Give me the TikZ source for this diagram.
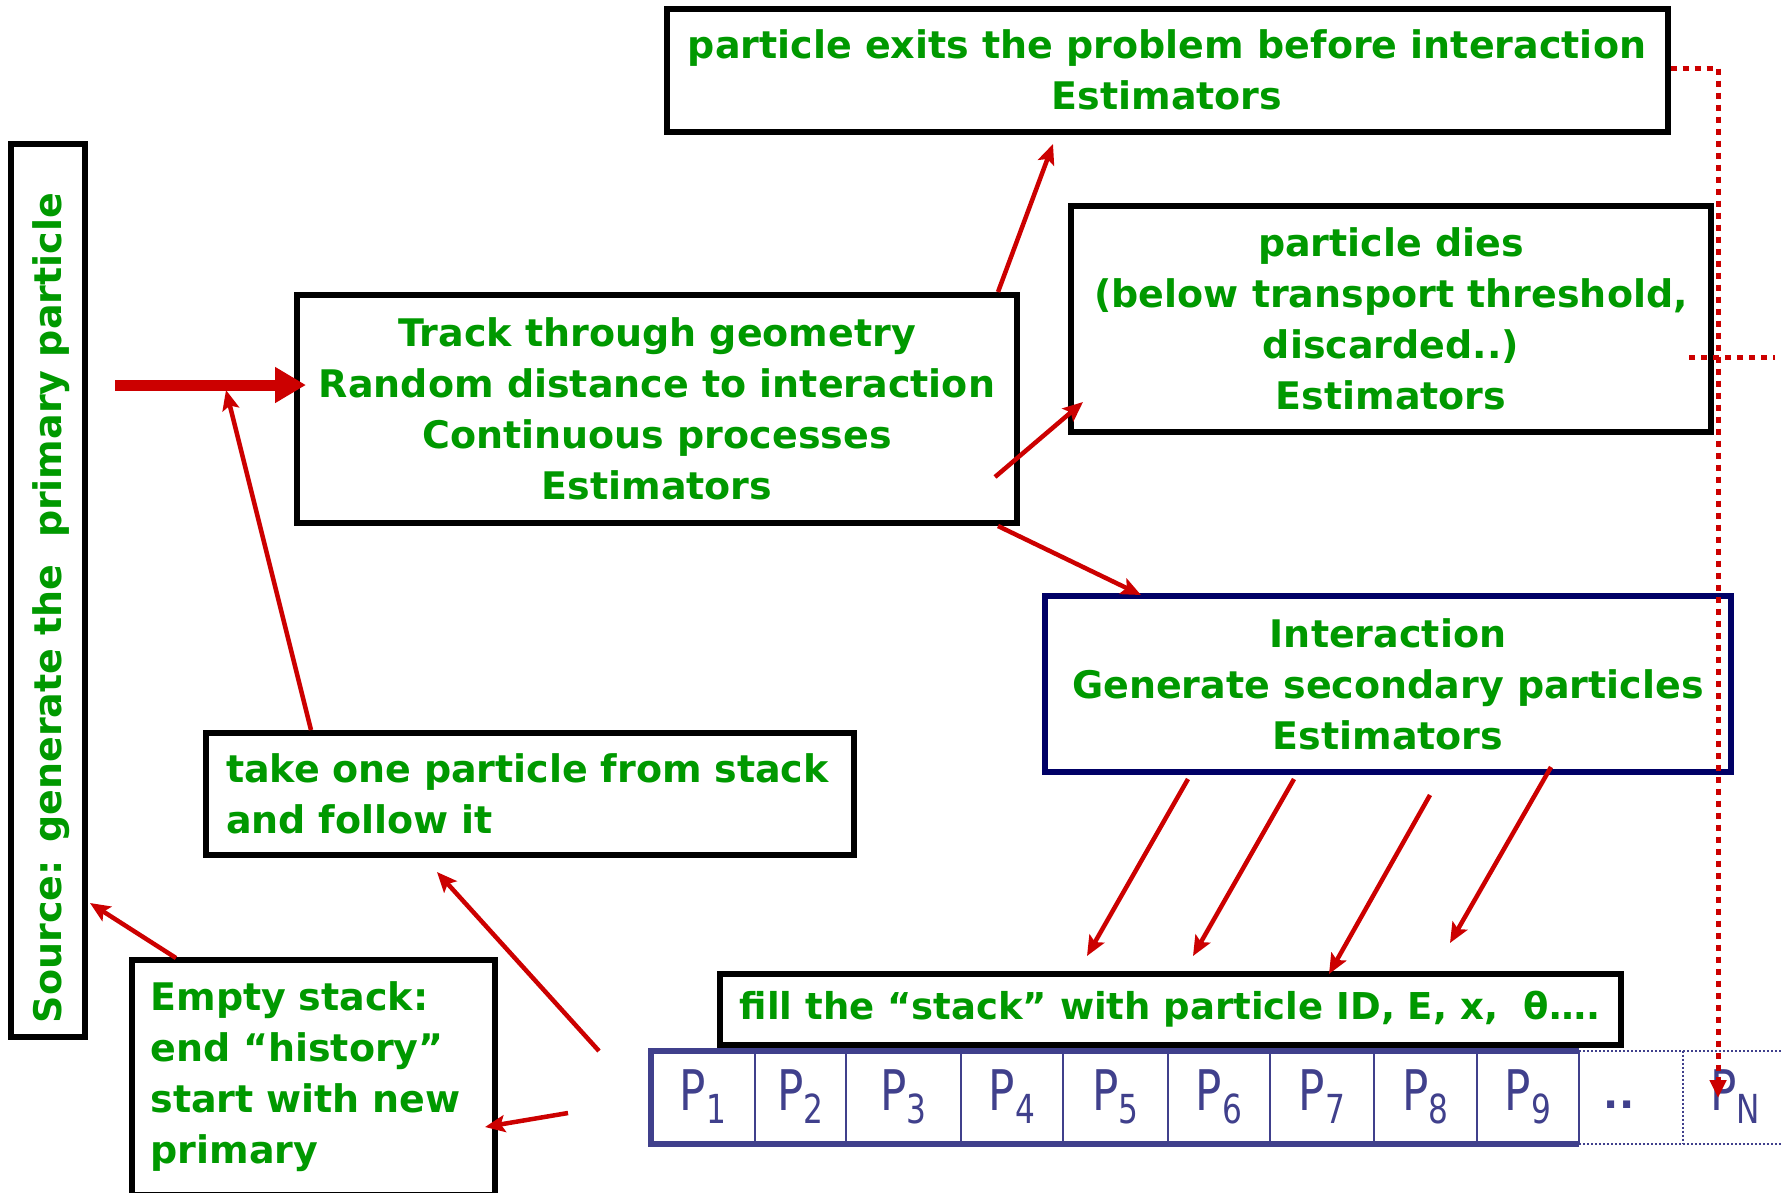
\documentclass[tikz,border=0pt]{standalone}
\usepackage{fontspec}
\setmainfont{DejaVu Sans}
\newfontfamily\condf[FakeStretch=0.78]{DejaVu Sans}
\usetikzlibrary{arrows.meta,calc}
\definecolor{tgreen}{RGB}{0,153,0}
\definecolor{ared}{RGB}{204,0,0}
\definecolor{navyb}{RGB}{0,0,102}
\definecolor{sblue}{RGB}{64,64,140}
\tikzset{
  box/.style={draw=black, line width=6pt, fill=white, inner sep=0pt, text=tgreen,
    font=\bfseries\fontsize{38}{51}\selectfont, align=center},
  arr/.style={draw=ared, line width=4.5pt, -{Stealth[length=20pt,width=17pt,inset=4pt]}},
  dotr/.style={draw=ared, line width=5pt, dash pattern=on 6pt off 6pt},
  cell/.style={draw=sblue, line width=2pt, inner sep=0pt, outer sep=0pt, minimum height=93pt, text=sblue,
    font=\condf\fontsize{56}{56}\selectfont},
}
\newcommand{\Psub}[1]{P\raisebox{-13pt}{\fontsize{40}{40}\selectfont #1}}
\begin{document}
\begin{tikzpicture}[x=1pt,y=-1pt]
\useasboundingbox[fill=white] (0,0) rectangle (1781,1192);

% boxes
\node[box, rotate=90, minimum width=893, minimum height=74] (src) at (48,590) {};
\node[text=tgreen, font=\bfseries\fontsize{38}{51}\selectfont, rotate=90, inner sep=0pt] (srct) at (51,608) {Source: generate the\ \ primary particle};

\node[box, minimum width=720, minimum height=228] (track) at (657,409)
  {Track through geometry\\Random distance to interaction\\Continuous processes\\Estimators};
\node[box, minimum width=1001, minimum height=123] (exit) at (1167,70)
  {particle exits the problem before interaction\\Estimators};
\node[box, minimum width=640, minimum height=226] (dies) at (1391,319)
  {particle dies\\(below transport threshold,\\discarded..)\\Estimators};
\node[box, draw=navyb, minimum width=686, minimum height=176] (inter) at (1388,684)
  {Interaction\\Generate secondary particles\\Estimators};
\node[box, minimum width=648, minimum height=122, text width=608, align=left] (take) at (530,794)
  {take one particle from stack\\and follow it};
\node[box, minimum width=363, minimum height=235, text width=325, align=left] (empty) at (313,1077)
  {Empty stack:\\end “history”\\start with new\\primary};
\node[box, minimum width=901, minimum height=71, font=\bfseries\fontsize{37}{51}\selectfont] (fill) at (1170,1009)
  {fill the “stack” with particle ID, E, x,\ \ θ….};

% stack cells
\node[cell, minimum width=104, anchor=west] (c1) at (651,1097) {\Psub{1}};
\node[cell, minimum width=91, anchor=west] (c2) at (c1.east) {\Psub{2}};
\node[cell, minimum width=115, anchor=west] (c3) at (c2.east) {\Psub{3}};
\node[cell, minimum width=102, anchor=west] (c4) at (c3.east) {\Psub{4}};
\node[cell, minimum width=105, anchor=west] (c5) at (c4.east) {\Psub{5}};
\node[cell, minimum width=102, anchor=west] (c6) at (c5.east) {\Psub{6}};
\node[cell, minimum width=104, anchor=west] (c7) at (c6.east) {\Psub{7}};
\node[cell, minimum width=103, anchor=west] (c8) at (c7.east) {\Psub{8}};
\node[cell, minimum width=102, anchor=west] (c9) at (c8.east) {\Psub{9}};
\node[cell, draw=none, minimum width=104, anchor=west] (cdots) at (c9.east) {};
\node[text=sblue, font=\bfseries\fontsize{40}{40}\selectfont, inner sep=0pt] (dd) at ([xshift=-12pt,yshift=-8pt]cdots.center) {..};
\node[cell, draw=none, minimum width=104, anchor=west] (cN) at (cdots.east) {\Psub{N}};
\draw[sblue, line width=6pt] (c9.north east) -- (c1.north west) -- (c1.south west) -- (c9.south east);
\draw[sblue, line width=2pt, dotted] (c9.north east) -- ++(210,0);
\draw[sblue, line width=2pt, dotted] (c9.south east) -- ++(210,0);
\draw[sblue, line width=2pt, dotted] (cdots.north east) -- (cdots.south east);

% arrows
\coordinate (a0) at (115,385);
\draw[draw=ared, line width=11pt, -{Triangle[length=31pt,width=34pt]}] (a0) -- ([yshift=24pt,xshift=12pt]track.west);
\coordinate (a1) at (226,390);
\draw[arr] ([xshift=-219pt]take.north) -- (a1);
\coordinate (a2) at (1053,144);
\draw[arr] ([xshift=-22pt]track.north east) -- (a2);
\coordinate (a3s) at (995,477);
\coordinate (a3) at (1083,402);
\draw[arr] (a3s) -- (a3);
\coordinate (a4) at (1141,595);
\draw[arr] ([xshift=-22pt]track.south east) -- (a4);
\coordinate (b1s) at (1188,779); \coordinate (b1) at (1087,956);
\coordinate (b2s) at (1294,779); \coordinate (b2) at (1193,956);
\coordinate (b3s) at (1430,795); \coordinate (b3) at (1329,974);
\coordinate (b4s) at (1551,767); \coordinate (b4) at (1450,943);
\draw[arr] (b1s) -- (b1);
\draw[arr] (b2s) -- (b2);
\draw[arr] (b3s) -- (b3);
\draw[arr] (b4s) -- (b4);
\coordinate (d1s) at (599,1051); \coordinate (d1) at (437,872);
\draw[arr] (d1s) -- (d1);
\coordinate (d2s) at (568,1113); \coordinate (d2) at (485,1127);
\draw[arr] (d2s) -- (d2);
\coordinate (d3s) at (176,958); \coordinate (d3) at (90,903);
\draw[arr] (d3s) -- (d3);

% dotted red
\coordinate (pn) at (1718,1098);
\draw[dotr, -{Triangle[length=18pt,width=16pt]}] ([yshift=2pt]exit.east) -| (pn);
\coordinate (h1) at (1689,357); \coordinate (h2) at (1775,357);
\draw[dotr] (h1) -- (h2);
\end{tikzpicture}
\end{document}
